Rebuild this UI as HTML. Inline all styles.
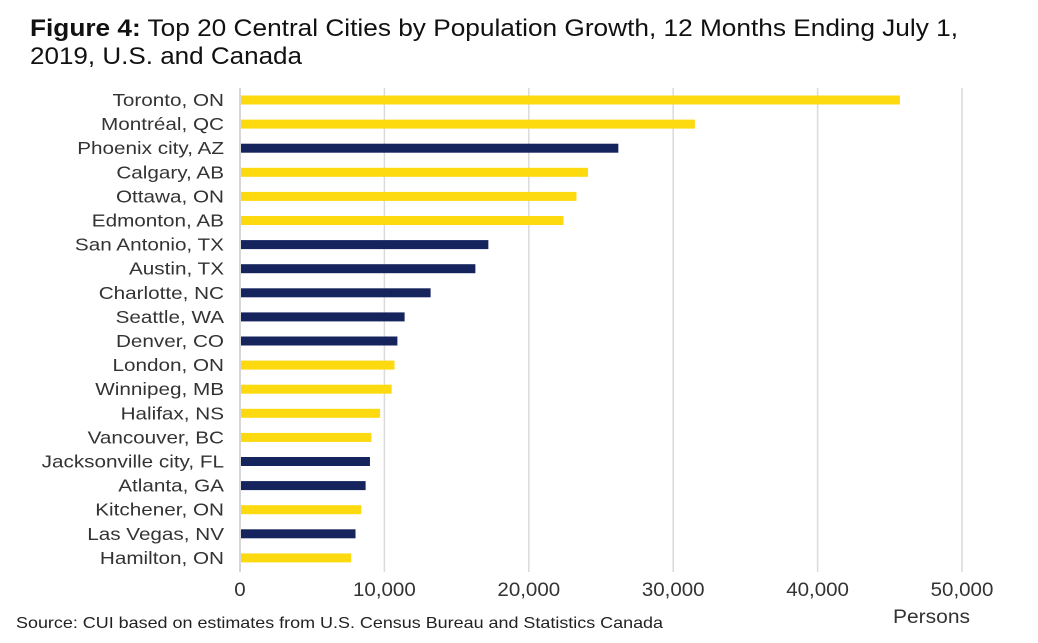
<!DOCTYPE html>
<html><head><meta charset="utf-8"><style>
body{margin:0;background:#fff;font-family:"Liberation Sans",sans-serif;}
</style></head><body>
<svg width="1038" height="638" xmlns="http://www.w3.org/2000/svg" font-family="Liberation Sans, sans-serif">
<text x="30" y="36" font-size="24" fill="#111" textLength="928" lengthAdjust="spacingAndGlyphs"><tspan font-weight="bold">Figure 4:</tspan> Top 20 Central Cities by Population Growth, 12 Months Ending July 1,</text>
<text x="30" y="64" font-size="24" fill="#111" textLength="272" lengthAdjust="spacingAndGlyphs">2019, U.S. and Canada</text>
<g id="grid"></g><g id="bars"></g><g id="labels"></g><g id="ticks"></g>
<text x="893" y="623" font-size="19" fill="#333" textLength="77" lengthAdjust="spacingAndGlyphs">Persons</text>
<text x="16" y="628" font-size="16" fill="#222" textLength="647" lengthAdjust="spacingAndGlyphs">Source: CUI based on estimates from U.S. Census Bureau and Statistics Canada</text>
</svg>
<script>
const cities=["Toronto, ON","Montréal, QC","Phoenix city, AZ","Calgary, AB","Ottawa, ON","Edmonton, AB","San Antonio, TX","Austin, TX","Charlotte, NC","Seattle, WA","Denver, CO","London, ON","Winnipeg, MB","Halifax, NS","Vancouver, BC","Jacksonville city, FL","Atlanta, GA","Kitchener, ON","Las Vegas, NV","Hamilton, ON"];
const growth=[45700,31500,26200,24100,23300,22400,17200,16300,13200,11400,10900,10700,10500,9700,9100,9000,8700,8400,8000,7700];
const country=["CA","CA","US","CA","CA","CA","US","US","US","US","US","CA","CA","CA","CA","US","US","CA","US","CA"];
const tickVals=[0,10000,20000,30000,40000,50000];
const tickLabels=["0","10,000","20,000","30,000","40,000","50,000"];
const NS="http://www.w3.org/2000/svg";
const x0=240,x1=962,y0=100,step=24.1,bh=9;
const xs=v=>x0+(v/50000)*(x1-x0);
const ys=i=>y0+i*step;
function mk(t,a,p){const e=document.createElementNS(NS,t);for(const k in a)e.setAttribute(k,a[k]);document.getElementById(p).appendChild(e);return e;}
tickVals.forEach((v,i)=>{
 const g=mk("line",{x1:xs(v),x2:xs(v),y1:88,y2:572,stroke:i==0?"#c8c8c8":"#dadada","stroke-width":1.5},"grid");
 
 
 const t=mk("text",{x:xs(v),y:596,"font-size":19,fill:"#333","text-anchor":"middle","transform":"translate("+xs(v)+",0) scale(1.08,1) translate("+(-xs(v))+",0)"},"ticks");
 t.textContent=tickLabels[i];
 
 
});
cities.forEach((c,i)=>{
 const r=mk("rect",{x:x0+1,y:ys(i)-bh/2,width:xs(growth[i])-x0-1,height:bh,fill:country[i]=="CA"?"#FDD90F":"#16245E"},"bars");
 
 
 const t=mk("text",{x:224,y:ys(i)+6,"font-size":18,fill:"#333","text-anchor":"end","transform":"translate(224,0) scale(1.15,1) translate(-224,0)"},"labels");
 t.textContent=c;
 
 
});
</script>
</body></html>
